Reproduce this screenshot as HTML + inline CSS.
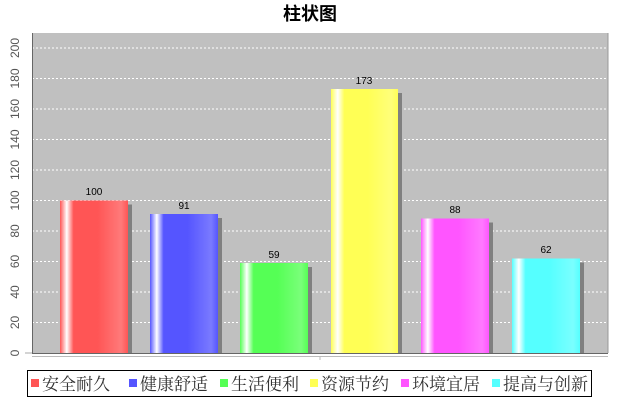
<!DOCTYPE html><html><head><meta charset="utf-8"><style>body{margin:0;background:#fff;width:620px;height:400px;overflow:hidden}</style></head><body>
<svg width="620" height="400" xmlns="http://www.w3.org/2000/svg" font-family="Liberation Sans, sans-serif">
<defs>
<linearGradient id="gr" x1="0" x2="1"><stop offset="0" stop-color="#ff5555"/><stop offset=".1" stop-color="#fff"/><stop offset=".2" stop-color="#ff5555"/><stop offset=".55" stop-color="#ff5555"/><stop offset=".9" stop-color="#ff7a7a"/><stop offset="1" stop-color="#ff5555"/></linearGradient>
<linearGradient id="gb" x1="0" x2="1"><stop offset="0" stop-color="#5555ff"/><stop offset=".1" stop-color="#fff"/><stop offset=".2" stop-color="#5555ff"/><stop offset=".55" stop-color="#5555ff"/><stop offset=".9" stop-color="#7a7aff"/><stop offset="1" stop-color="#5555ff"/></linearGradient>
<linearGradient id="gg" x1="0" x2="1"><stop offset="0" stop-color="#55ff55"/><stop offset=".1" stop-color="#fff"/><stop offset=".2" stop-color="#55ff55"/><stop offset=".55" stop-color="#55ff55"/><stop offset=".9" stop-color="#7aff7a"/><stop offset="1" stop-color="#55ff55"/></linearGradient>
<linearGradient id="gy" x1="0" x2="1"><stop offset="0" stop-color="#ffff55"/><stop offset=".1" stop-color="#fff"/><stop offset=".2" stop-color="#ffff55"/><stop offset=".55" stop-color="#ffff55"/><stop offset=".9" stop-color="#ffff7a"/><stop offset="1" stop-color="#ffff55"/></linearGradient>
<linearGradient id="gm" x1="0" x2="1"><stop offset="0" stop-color="#ff55ff"/><stop offset=".1" stop-color="#fff"/><stop offset=".2" stop-color="#ff55ff"/><stop offset=".55" stop-color="#ff55ff"/><stop offset=".9" stop-color="#ff7aff"/><stop offset="1" stop-color="#ff55ff"/></linearGradient>
<linearGradient id="gc" x1="0" x2="1"><stop offset="0" stop-color="#55ffff"/><stop offset=".1" stop-color="#fff"/><stop offset=".2" stop-color="#55ffff"/><stop offset=".55" stop-color="#55ffff"/><stop offset=".9" stop-color="#7affff"/><stop offset="1" stop-color="#55ffff"/></linearGradient>
</defs>
<text x="310" y="20" text-anchor="middle" font-size="18" font-weight="bold" font-family="Liberation Sans, Noto Sans CJK SC, sans-serif">柱状图</text>
<rect x="32" y="33" width="576" height="320" fill="#c0c0c0"/>
<g stroke="#fff" stroke-dasharray="2,2" stroke-width="1">
<line x1="32" x2="608" y1="322.5" y2="322.5"/><line x1="32" x2="608" y1="292" y2="292"/><line x1="32" x2="608" y1="261.5" y2="261.5"/><line x1="32" x2="608" y1="231" y2="231"/><line x1="32" x2="608" y1="200.5" y2="200.5"/><line x1="32" x2="608" y1="170" y2="170"/><line x1="32" x2="608" y1="139.5" y2="139.5"/><line x1="32" x2="608" y1="109" y2="109"/><line x1="32" x2="608" y1="78.5" y2="78.5"/><line x1="32" x2="608" y1="48" y2="48"/>
</g>
<g fill="#808080">
<rect x="64" y="204.5" width="68" height="148.5"/><rect x="154" y="218" width="68" height="135"/><rect x="244" y="267" width="68" height="86"/><rect x="335" y="93" width="67" height="260"/><rect x="425" y="222.5" width="68" height="130.5"/><rect x="516" y="262.5" width="68" height="90.5"/>
</g>
<rect x="60" y="200.5" width="68" height="152.5" fill="url(#gr)"/>
<rect x="150" y="214" width="68" height="139" fill="url(#gb)"/>
<rect x="240" y="263" width="68" height="90" fill="url(#gg)"/>
<rect x="331" y="89" width="67" height="264" fill="url(#gy)"/>
<rect x="421" y="218.5" width="68" height="134.5" fill="url(#gm)"/>
<rect x="512" y="258.5" width="68" height="94.5" fill="url(#gc)"/>
<g font-size="10" text-anchor="middle" fill="#000">
<text x="94" y="195">100</text><text x="184" y="209">91</text><text x="274" y="258">59</text><text x="364" y="84">173</text><text x="455" y="213">88</text><text x="546" y="253">62</text>
</g>
<path d="M32.5 33 V353.5 H608" stroke="#666" fill="none"/>
<line x1="608" y1="33" x2="608" y2="353" stroke="#999"/>
<line x1="32" y1="356.5" x2="608" y2="356.5" stroke="#bbb"/>
<line x1="320" y1="356" x2="320" y2="360" stroke="#bbb"/>
<g font-size="12" fill="#555" text-anchor="middle">
<text transform="translate(19,353) rotate(-90)">0</text>
<text transform="translate(19,322.5) rotate(-90)">20</text>
<text transform="translate(19,292) rotate(-90)">40</text>
<text transform="translate(19,261.5) rotate(-90)">60</text>
<text transform="translate(19,231) rotate(-90)">80</text>
<text transform="translate(19,200.5) rotate(-90)">100</text>
<text transform="translate(19,170) rotate(-90)">120</text>
<text transform="translate(19,139.5) rotate(-90)">140</text>
<text transform="translate(19,109) rotate(-90)">160</text>
<text transform="translate(19,78.5) rotate(-90)">180</text>
<text transform="translate(19,48) rotate(-90)">200</text>
</g>
<g stroke="#aaa"><line x1="25" x2="32" y1="353" y2="353"/></g>
<rect x="27.5" y="370.5" width="564" height="26" fill="#fff" stroke="#000"/>
<g font-size="17" fill="#333" font-family="Liberation Serif, Noto Serif CJK SC, serif">
<rect x="31" y="379" width="8" height="8" fill="#ff5555"/><text x="42" y="390">安全耐久</text>
<rect x="129" y="379" width="8" height="8" fill="#5555ff"/><text x="140" y="390">健康舒适</text>
<rect x="220" y="379" width="8" height="8" fill="#55ff55"/><text x="231" y="390">生活便利</text>
<rect x="310" y="379" width="8" height="8" fill="#ffff55"/><text x="321" y="390">资源节约</text>
<rect x="401" y="379" width="8" height="8" fill="#ff55ff"/><text x="412" y="390">环境宜居</text>
<rect x="492" y="379" width="8" height="8" fill="#55ffff"/><text x="503" y="390">提高与创新</text>
</g>
</svg></body></html>
